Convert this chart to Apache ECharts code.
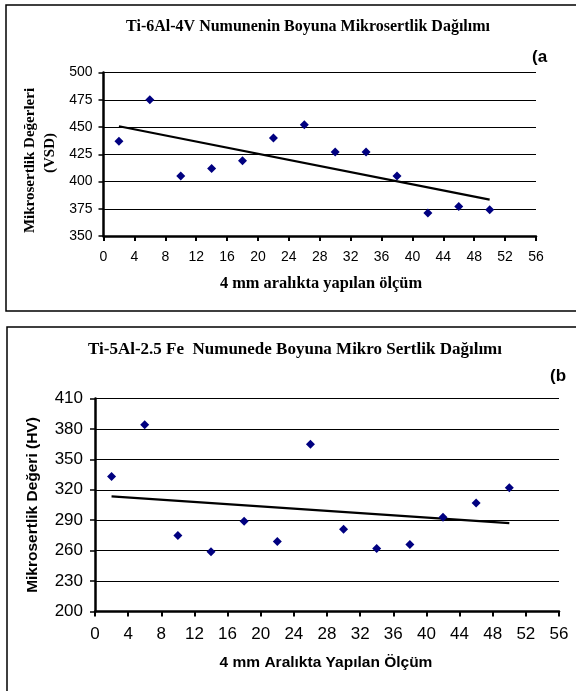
<!DOCTYPE html>
<html>
<head>
<meta charset="utf-8">
<script src="https://cdn.jsdelivr.net/npm/echarts@6/dist/echarts.min.js"></script>
<style>
html,body{margin:0;padding:0;background:#fff;}
#chart{width:576px;height:691px;}
</style>
</head>
<body>
<div id="chart"></div>
<script>
// Measurement positions (mm)
const positions = [2, 6, 10, 14, 18, 22, 26, 30, 34, 38, 42, 46, 50];
// (a) Ti-6Al-4V hardness values (VSD)
const hardnessA = [437, 475, 405, 412, 419, 440, 452, 427, 427, 405, 371, 377, 374];
// (b) Ti-5Al-2.5Fe hardness values (HV)
const hardnessB = [333, 384, 275, 259, 289, 269, 365, 281, 262, 266, 293, 307, 322];

const xAxisRange = [0, 56, 4];          // min, max, step
const yAxisRangeA = [350, 500, 25];
const yAxisRangeB = [200, 410, 30];

const titleA = 'Ti-6Al-4V Numunenin Boyuna Mikrosertlik Dağılımı';
const titleB = 'Ti-5Al-2.5 Fe  Numunede Boyuna Mikro Sertlik Dağılımı';
const yNameA1 = 'Mikrosertlik Değerleri';
const yNameA2 = '(VSD)';
const yNameB = 'Mikrosertlik Değeri (HV)';
const xNameA = '4 mm aralıkta yapılan ölçüm';
const xNameB = '4 mm Aralıkta Yapılan Ölçüm';

// Linear (least-squares) trendline, like Excel's
function trend(xs, ys) {
  const n = xs.length;
  const mx = xs.reduce((a, b) => a + b, 0) / n;
  const my = ys.reduce((a, b) => a + b, 0) / n;
  let sxy = 0, sxx = 0;
  for (let i = 0; i < n; i++) { sxy += (xs[i] - mx) * (ys[i] - my); sxx += (xs[i] - mx) ** 2; }
  const b = sxy / sxx, a = my - b * mx;
  const x0 = xs[0], x1 = xs[n - 1];
  return [[x0, a + b * x0], [x1, a + b * x1]];
}

const SERIF = '"Liberation Serif", "DejaVu Serif", serif';
const SANS = '"Liberation Sans", Arial, sans-serif';

function xAxisCfg(gridIndex, fs, margin) {
  return {
    type: 'value', gridIndex: gridIndex,
    min: xAxisRange[0], max: xAxisRange[1], interval: xAxisRange[2],
    axisLine: { show: true, onZero: false, lineStyle: { color: '#000', width: 2.5 } },
    axisTick: { show: true, inside: false, length: 5, lineStyle: { color: '#000', width: 2 } },
    axisLabel: { show: true, color: '#000', fontFamily: SANS, fontSize: fs, margin: margin },
    splitLine: { show: false }
  };
}
function yAxisCfg(gridIndex, r, fs, margin) {
  return {
    type: 'value', gridIndex: gridIndex,
    min: r[0], max: r[1], interval: r[2],
    axisLine: { show: true, onZero: false, lineStyle: { color: '#000', width: 2.5 } },
    axisTick: { show: true, inside: false, length: 5, lineStyle: { color: '#000', width: 1.5 } },
    axisLabel: { show: true, color: '#000', fontFamily: SANS, fontSize: fs, margin: margin },
    splitLine: { show: true, lineStyle: { color: '#000', width: 1 } }
  };
}

const chart = echarts.init(document.getElementById('chart'), null, { renderer: 'canvas' });
chart.setOption({
  animation: false,
  backgroundColor: '#fff',
  grid: [
    { left: 103.5, top: 72.5, width: 432.5, height: 163.5, containLabel: false },
    { left: 95, top: 398.5, width: 464, height: 213, containLabel: false }
  ],
  xAxis: [xAxisCfg(0, 14, 14), xAxisCfg(1, 17, 14)],
  yAxis: [yAxisCfg(0, yAxisRangeA, 14, 11), yAxisCfg(1, yAxisRangeB, 17, 12)],
  series: [
    { type: 'line', xAxisIndex: 0, yAxisIndex: 0, data: trend(positions, hardnessA),
      showSymbol: false, symbol: 'none', lineStyle: { color: '#000', width: 2.2 }, z: 2 },
    { type: 'scatter', xAxisIndex: 0, yAxisIndex: 0,
      data: positions.map((x, i) => [x, hardnessA[i]]),
      symbol: 'diamond', symbolSize: 9, itemStyle: { color: '#000080', opacity: 1 }, z: 3 },
    { type: 'line', xAxisIndex: 1, yAxisIndex: 1, data: trend(positions, hardnessB),
      showSymbol: false, symbol: 'none', lineStyle: { color: '#000', width: 2.2 }, z: 2 },
    { type: 'scatter', xAxisIndex: 1, yAxisIndex: 1,
      data: positions.map((x, i) => [x, hardnessB[i]]),
      symbol: 'diamond', symbolSize: 9, itemStyle: { color: '#000080', opacity: 1 }, z: 3 }
  ],
  graphic: [
    { type: 'rect', shape: { x: 6, y: 5, width: 620, height: 306 },
      style: { fill: 'none', stroke: '#000', lineWidth: 1.5 }, silent: true },
    { type: 'rect', shape: { x: 7, y: 327, width: 620, height: 420 },
      style: { fill: 'none', stroke: '#000', lineWidth: 1.5 }, silent: true },
    { type: 'text', x: 490, y: 27,
      style: { text: titleA, font: 'bold 16px ' + SERIF, fill: '#000', textAlign: 'right', textVerticalAlign: 'middle' } },
    { type: 'text', x: 532, y: 57,
      style: { text: '(a', font: 'bold 17px ' + SANS, fill: '#000', textAlign: 'left', textVerticalAlign: 'middle' } },
    { type: 'text', x: 30, y: 160.5, rotation: Math.PI / 2,
      style: { text: yNameA1, font: 'bold 15px ' + SERIF, fill: '#000', textAlign: 'center', textVerticalAlign: 'middle' } },
    { type: 'text', x: 50, y: 153, rotation: Math.PI / 2,
      style: { text: yNameA2, font: 'bold 15px ' + SERIF, fill: '#000', textAlign: 'center', textVerticalAlign: 'middle' } },
    { type: 'text', x: 321, y: 284,
      style: { text: xNameA, font: 'bold 16.4px ' + SERIF, fill: '#000', textAlign: 'center', textVerticalAlign: 'middle' } },
    { type: 'text', x: 88, y: 350,
      style: { text: titleB, font: 'bold 17px ' + SERIF, fill: '#000', textAlign: 'left', textVerticalAlign: 'middle' } },
    { type: 'text', x: 550, y: 376,
      style: { text: '(b', font: 'bold 17px ' + SANS, fill: '#000', textAlign: 'left', textVerticalAlign: 'middle' } },
    { type: 'text', x: 33, y: 505, rotation: Math.PI / 2,
      style: { text: yNameB, font: 'bold 15.5px ' + SANS, fill: '#000', textAlign: 'center', textVerticalAlign: 'middle' } },
    { type: 'text', x: 326, y: 663,
      style: { text: xNameB, font: 'bold 15.5px ' + SANS, fill: '#000', textAlign: 'center', textVerticalAlign: 'middle' } }
  ]
});
</script>
</body>
</html>
